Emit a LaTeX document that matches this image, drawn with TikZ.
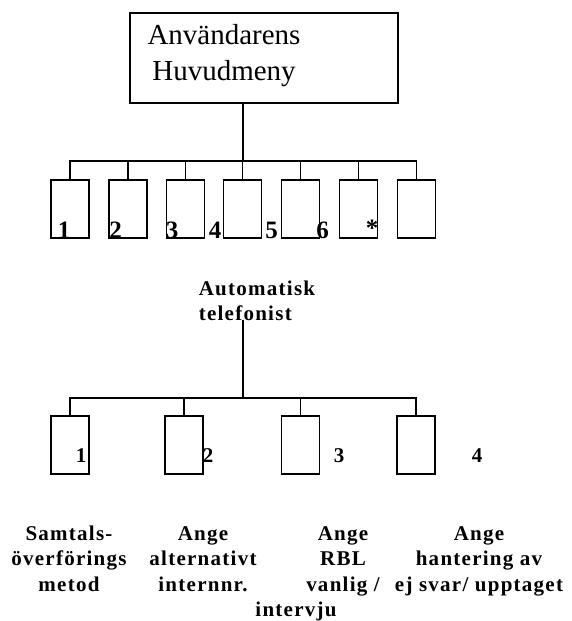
\documentclass[tikz,border=0pt]{standalone}
\usepackage{fontspec}
\setmainfont{Liberation Serif}
\newfontfamily\spacedfont[LetterSpace=6]{Liberation Serif}
\begin{document}
\begin{tikzpicture}[x=1pt,y=-1pt,line width=1.6pt,
  menubox/.style={draw,minimum width=38pt,minimum height=58pt,inner sep=0pt},
  numtop/.style={font=\fontsize{25}{25}\selectfont\bfseries,inner sep=0pt,anchor=base},
  numbot/.style={font=\fontsize{21}{21}\selectfont\bfseries,inner sep=0pt,anchor=base},
  caption/.style={font=\spacedfont\bfseries\fontsize{21}{25.5}\selectfont,align=center,inner sep=0pt,anchor=base}]
\useasboundingbox (0,0) rectangle (571,621);
% top box
\node[draw,minimum width=268pt,minimum height=90pt,inner sep=0pt] (main) at (264,58) {};
\node[font=\fontsize{29}{36}\selectfont,align=center,inner sep=0pt] (maintext) at (224,56) {Användarens\\Huvudmeny};
% first row
\coordinate (hub1) at (243,161);
\foreach \i/\x in {1/70,2/128,3/185.5,4/242.5,5/300.5,6/358.5,7/416.5}
  \node[menubox] (m\i) at (\x,209) {};
\draw (hub1 |- main.south) -- (hub1);
\draw (m1.north) |- (hub1) -| (m7.north);
\foreach \i in {2,...,6} \draw (m\i.north) -- (m\i.north |- hub1);
\node[numtop] (n1) at (64,238) {1};
\node[numtop] (n2) at (115.5,238) {2};
\node[numtop] (n3) at (172,238) {3};
\node[numtop] (n4) at (215,238) {4};
\node[numtop] (n5) at (271.5,238) {5};
\node[numtop] (n6) at (322.5,238) {6};
\node[numtop] (n7) at (372,236) {*};
% automatisk telefonist
\node[font=\spacedfont\bfseries\fontsize{21}{25}\selectfont,align=left,inner sep=0pt,anchor=base west] (auto) at (198,320) {Automatisk\\telefonist};
\coordinate (autolow) at (243,320);
\coordinate (hub2) at (243,398);
\foreach \i/\x in {1/70,2/184,3/300.5,4/416}
  \node[menubox] (b\i) at (\x,445) {};
\draw (autolow) -- (hub2);
\draw (b1.north) |- (hub2) -| (b4.north);
\foreach \i in {2,3} \draw (b\i.north) -- (b\i.north |- hub2);
\node[numbot] (k1) at (81,462) {1};
\node[numbot] (k2) at (208,462) {2};
\node[numbot] (k3) at (339,462) {3};
\node[numbot] (k4) at (477,462) {4};
% captions (base anchor = last line baseline)
\node[caption] (c1) at (69,591) {Samtals-\\överförings\\metod};
\node[caption] (c2) at (203,591) {Ange\\alternativt\\internnr.};
\node[caption] (c3) at (343,591) {Ange\\RBL\\vanlig /};
\node[caption] (c3b) at (296,616.5) {intervju};
\node[caption] (c4) at (479,591) {Ange\\hantering av\\ej svar/ upptaget};
\end{tikzpicture}
\end{document}
